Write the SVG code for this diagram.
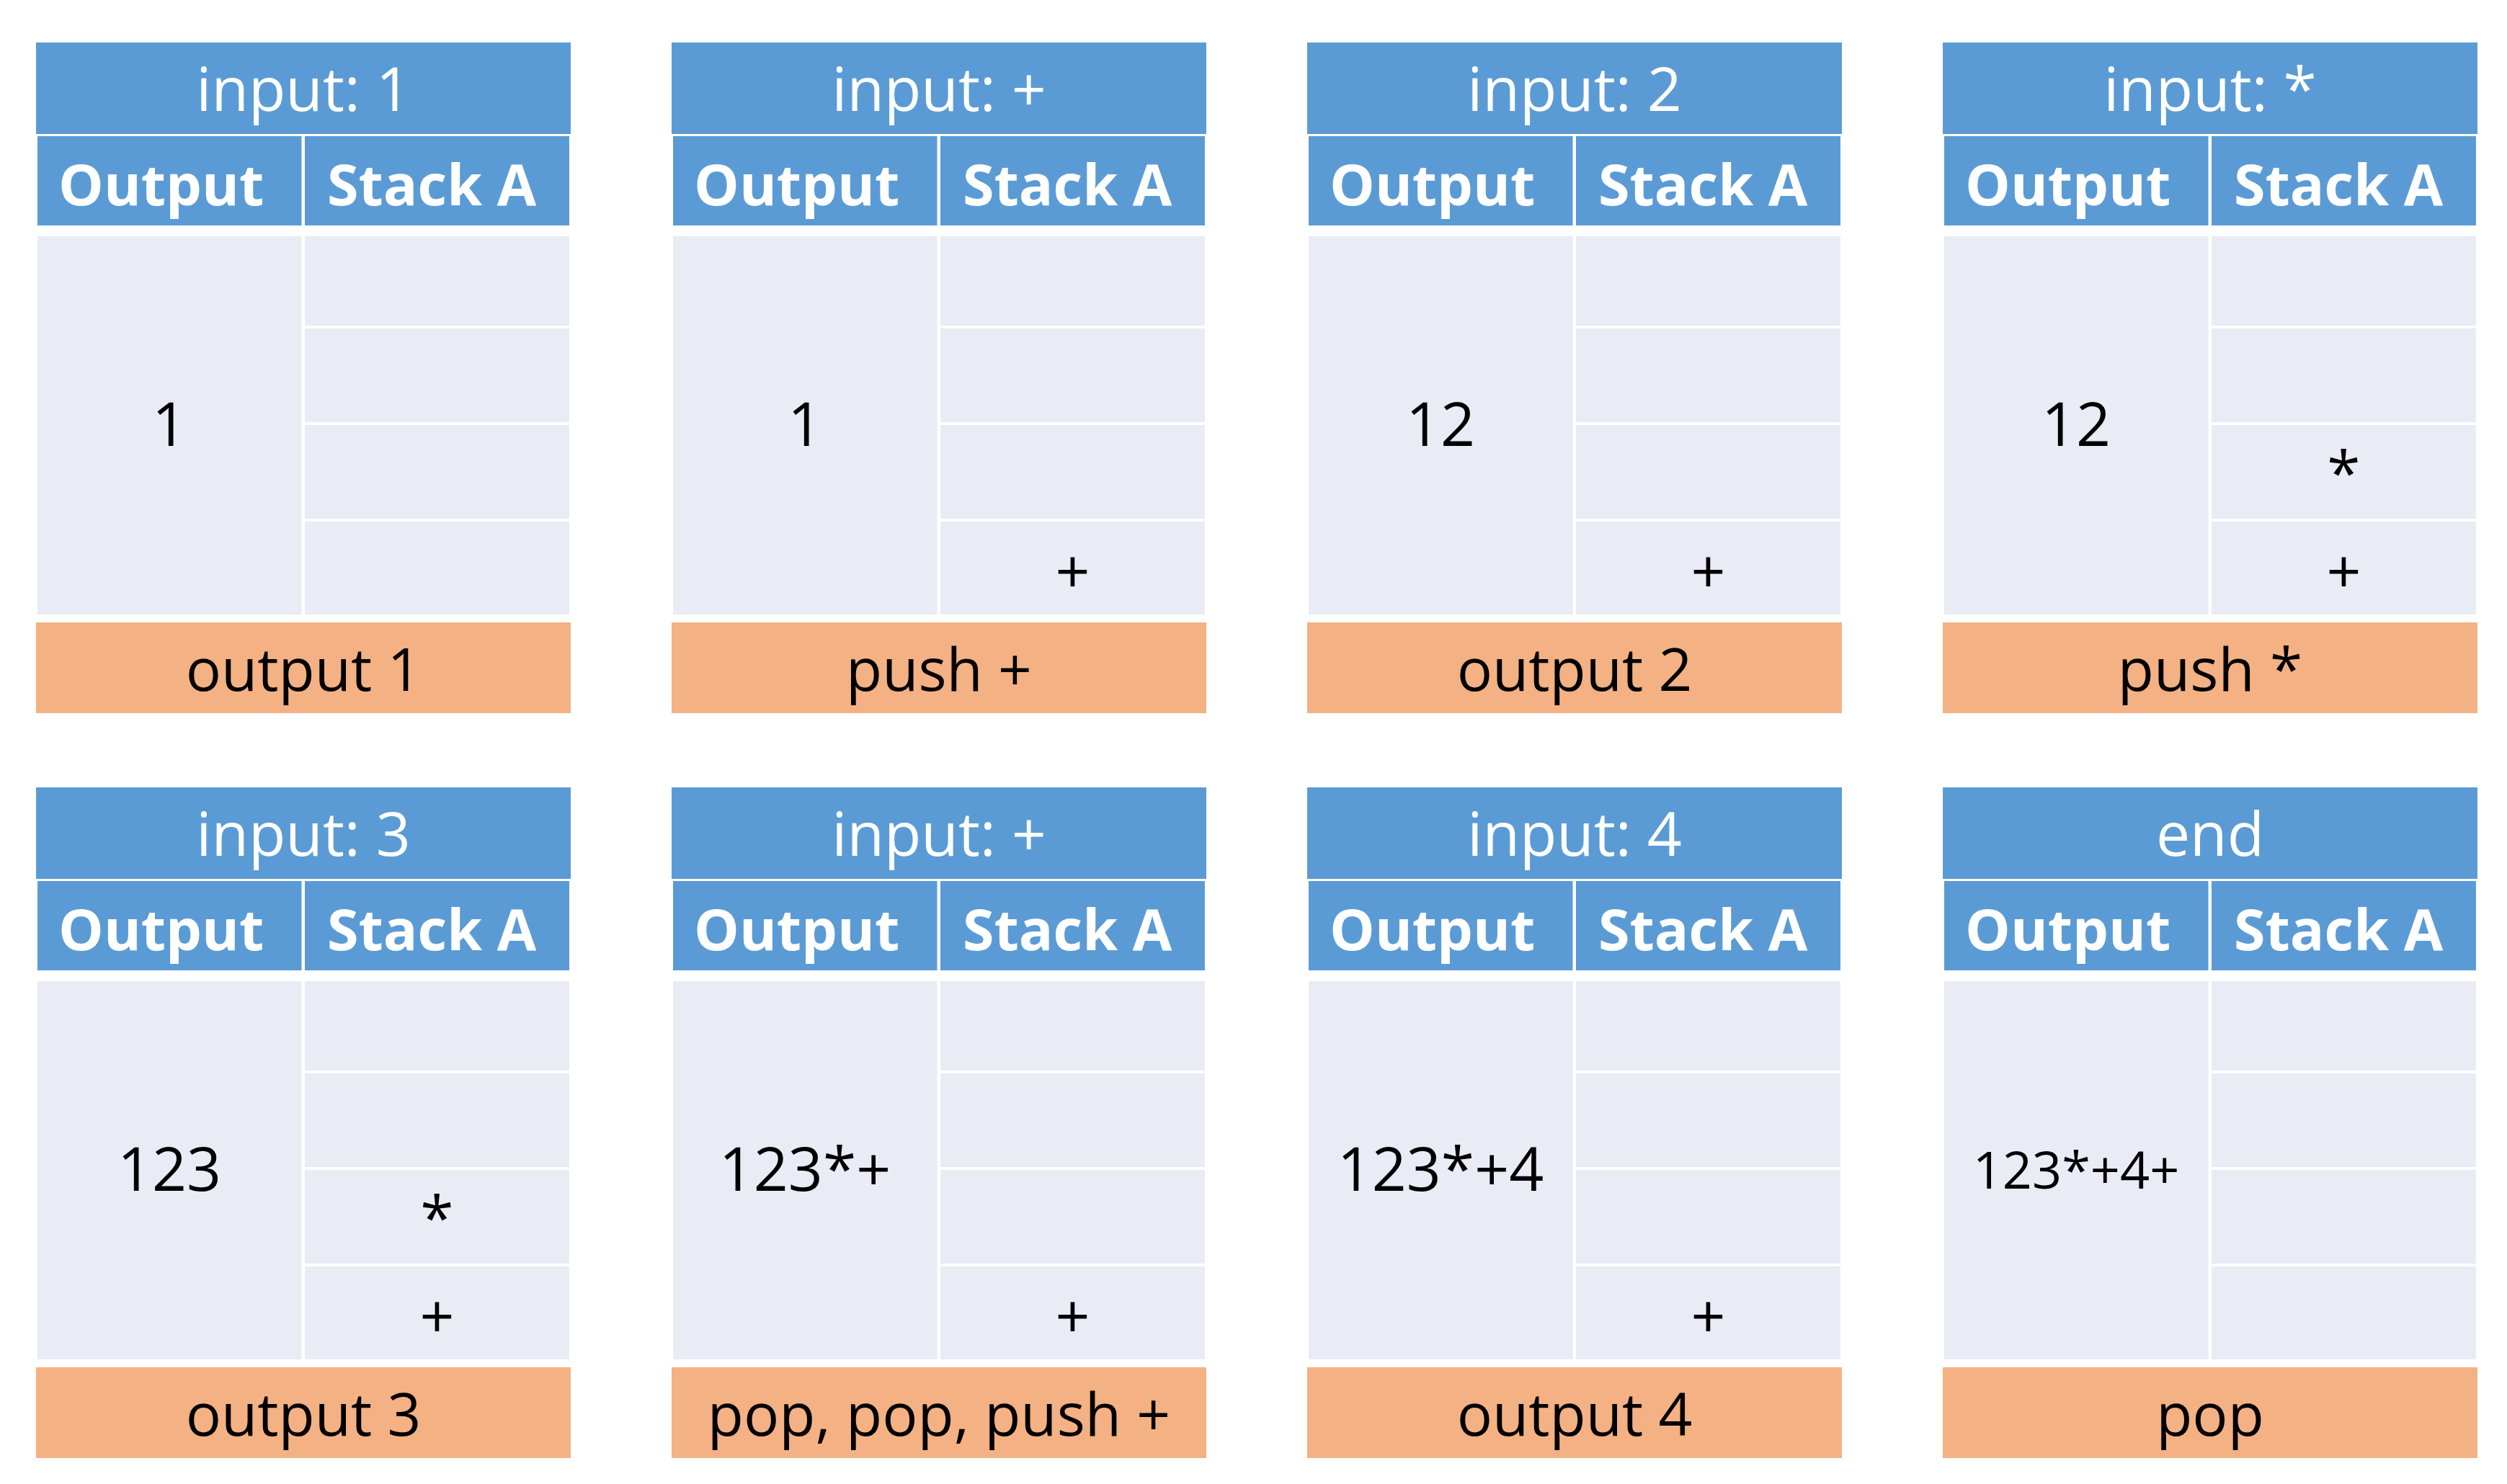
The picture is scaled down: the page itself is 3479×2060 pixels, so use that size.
<svg xmlns="http://www.w3.org/2000/svg" xmlns:xlink="http://www.w3.org/1999/xlink" width="3479" height="2060" viewBox="0 0 3479 2060">
<style>
.blue{fill:#5B9BD5}
.light{fill:#E9EBF5}
.orange{fill:#F4B183}
text{font-family:"Open Sans","Noto Sans","Liberation Sans",sans-serif}
.title{font-size:84px;fill:#ffffff;text-anchor:middle}
.head{font-size:79px;font-weight:bold;fill:#ffffff}
.body{font-size:84px;fill:#000000;text-anchor:middle}
.small{font-size:72px}
.stk{font-size:84px;fill:#000000;text-anchor:middle}
.act{font-size:82px;fill:#000000;text-anchor:middle}
</style>
<defs>
<g id="frame">
<rect class="blue" x="0" y="0" width="742" height="127"/>
<rect class="blue" x="2" y="130" width="366.5" height="124"/>
<rect class="blue" x="373" y="130" width="367" height="124"/>
<rect class="light" x="2" y="269" width="366.5" height="525"/>
<rect class="light" x="373" y="269" width="367" height="124"/>
<rect class="light" x="373" y="397" width="367" height="130"/>
<rect class="light" x="373" y="531" width="367" height="130"/>
<rect class="light" x="373" y="665" width="367" height="129"/>
<rect class="orange" x="0" y="805" width="742" height="126"/>
<text class="head" x="31" y="226">Output</text>
<text class="head" x="404" y="226">Stack A</text>
</g>
</defs>
<rect x="0" y="0" width="3479" height="2060" fill="#ffffff"/>
<g id="connectors"/>
<g id="panel1" transform="translate(50,59)">
<use xlink:href="#frame" href="#frame"/>
<text class="title" x="371" y="95">input: 1</text>
<text class="body" x="185" y="560">1</text>
<text class="act" x="371" y="900">output 1</text>
</g>
<g id="panel2" transform="translate(932,59)">
<use xlink:href="#frame" href="#frame"/>
<text class="title" x="371" y="95">input: +</text>
<text class="body" x="185" y="560">1</text>
<text class="stk" x="556.5" y="764">+</text>
<text class="act" x="371" y="900">push +</text>
</g>
<g id="panel3" transform="translate(1814,59)">
<use xlink:href="#frame" href="#frame"/>
<text class="title" x="371" y="95">input: 2</text>
<text class="body" x="185" y="560">12</text>
<text class="stk" x="556.5" y="764">+</text>
<text class="act" x="371" y="900">output 2</text>
</g>
<g id="panel4" transform="translate(2696,59)">
<use xlink:href="#frame" href="#frame"/>
<text class="title" x="371" y="95">input: *</text>
<text class="body" x="185" y="560">12</text>
<text class="stk" x="556.5" y="628">*</text>
<text class="stk" x="556.5" y="764">+</text>
<text class="act" x="371" y="900">push *</text>
</g>
<g id="panel5" transform="translate(50,1093)">
<use xlink:href="#frame" href="#frame"/>
<text class="title" x="371" y="95">input: 3</text>
<text class="body" x="185" y="560">123</text>
<text class="stk" x="556.5" y="628">*</text>
<text class="stk" x="556.5" y="764">+</text>
<text class="act" x="371" y="900">output 3</text>
</g>
<g id="panel6" transform="translate(932,1093)">
<use xlink:href="#frame" href="#frame"/>
<text class="title" x="371" y="95">input: +</text>
<text class="body" x="185" y="560">123*+</text>
<text class="stk" x="556.5" y="764">+</text>
<text class="act" x="371" y="900">pop, pop, push +</text>
</g>
<g id="panel7" transform="translate(1814,1093)">
<use xlink:href="#frame" href="#frame"/>
<text class="title" x="371" y="95">input: 4</text>
<text class="body" x="185" y="560">123*+4</text>
<text class="stk" x="556.5" y="764">+</text>
<text class="act" x="371" y="900">output 4</text>
</g>
<g id="panel8" transform="translate(2696,1093)">
<use xlink:href="#frame" href="#frame"/>
<text class="title" x="371" y="95">end</text>
<text class="body small" x="185" y="557">123*+4+</text>
<text class="act" x="371" y="900">pop</text>
</g>
</svg>
